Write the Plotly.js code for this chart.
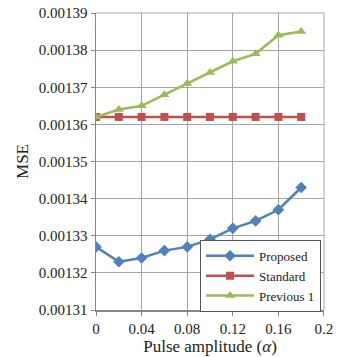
<!DOCTYPE html>
<html><head><meta charset="utf-8">
<script src="https://cdn.plot.ly/plotly-3.0.1.min.js"></script>
<style>html,body{margin:0;padding:0;background:#fff;}#chart{width:337px;height:357px;}</style>
</head><body><div id="chart"></div>
<script>
const alpha = [0, 0.02, 0.04, 0.06, 0.08, 0.10, 0.12, 0.14, 0.16, 0.18];
const proposed = [0.001327, 0.001323, 0.001324, 0.001326, 0.001327, 0.001329, 0.001332, 0.001334, 0.001337, 0.001343];
const standard = [0.001362, 0.001362, 0.001362, 0.001362, 0.001362, 0.001362, 0.001362, 0.001362, 0.001362, 0.001362];
const previous1 = [0.001362, 0.001364, 0.001365, 0.001368, 0.001371, 0.001374, 0.001377, 0.001379, 0.001384, 0.001385];
const xTicks = [0, 0.04, 0.08, 0.12, 0.16, 0.2];
const xTickText = ['0', '0.04', '0.08', '0.12', '0.16', '0.2'];
const yTicks = [0.00131, 0.00132, 0.00133, 0.00134, 0.00135, 0.00136, 0.00137, 0.00138, 0.00139];

const FAM = 'Liberation Serif';
const traces = [
  {x: alpha, y: proposed, name: 'Proposed', mode: 'lines+markers',
   line: {color: '#4f81bd', width: 2.5}, marker: {symbol: 'diamond', size: 9, color: '#4f81bd'}},
  {x: alpha, y: standard, name: 'Standard', mode: 'lines+markers',
   line: {color: '#c0504d', width: 2.5}, marker: {symbol: 'square', size: 8, color: '#c0504d'}},
  {x: alpha, y: previous1, name: 'Previous 1', mode: 'lines+markers',
   line: {color: '#9bbb59', width: 2.5}, marker: {symbol: 'triangle-up', size: 9, color: '#9bbb59'}}
];
const layout = {
  width: 337, height: 357,
  margin: {l: 96, r: 13, t: 13, b: 47},
  paper_bgcolor: '#fff', plot_bgcolor: '#fff',
  font: {family: FAM, size: 15, color: '#222'},
  showlegend: true,
  legend: {x: 0.987, y: -0.006, xanchor: 'right', yanchor: 'bottom',
    bgcolor: '#fff', bordercolor: '#555', borderwidth: 1, itemwidth: 48,
    font: {family: FAM, size: 13, color: '#222'}, tracegroupgap: 0},
  xaxis: {range: [0, 0.20001], tickvals: xTicks, ticktext: xTickText,
    tickfont: {family: FAM, size: 15, color: '#222'}, ticklabeloverflow: 'allow',
    showgrid: true, gridcolor: '#a6a6a6', gridwidth: 1,
    showline: true, linecolor: '#868686', linewidth: 1.5,
    ticks: 'outside', ticklen: 4, tickcolor: '#868686',
    zeroline: false, mirror: false,
    title: {text: 'Pulse amplitude (<i>α</i>)', font: {family: FAM, size: 17, color: '#222'}, standoff: 4}},
  yaxis: {range: [0.00131, 0.00139], tickvals: yTicks, tickformat: '.5f',
    tickfont: {family: FAM, size: 15, color: '#222'},
    showgrid: true, gridcolor: '#a6a6a6', gridwidth: 1,
    showline: true, linecolor: '#868686', linewidth: 1.5,
    ticks: 'outside', ticklen: 4, tickcolor: '#868686',
    zeroline: false,
    title: {text: 'MSE', font: {family: FAM, size: 17, color: '#222'}, standoff: 6}},
  shapes: [
    {type: 'line', xref: 'paper', yref: 'paper', x0: 1, x1: 1, y0: 0, y1: 1, line: {color: '#a6a6a6', width: 1}},
    {type: 'line', xref: 'paper', yref: 'paper', x0: 0, x1: 1, y0: 1, y1: 1, line: {color: '#a6a6a6', width: 1}}
  ]
};
Plotly.newPlot('chart', traces, layout, {displayModeBar: false, staticPlot: true});
</script></body></html>
